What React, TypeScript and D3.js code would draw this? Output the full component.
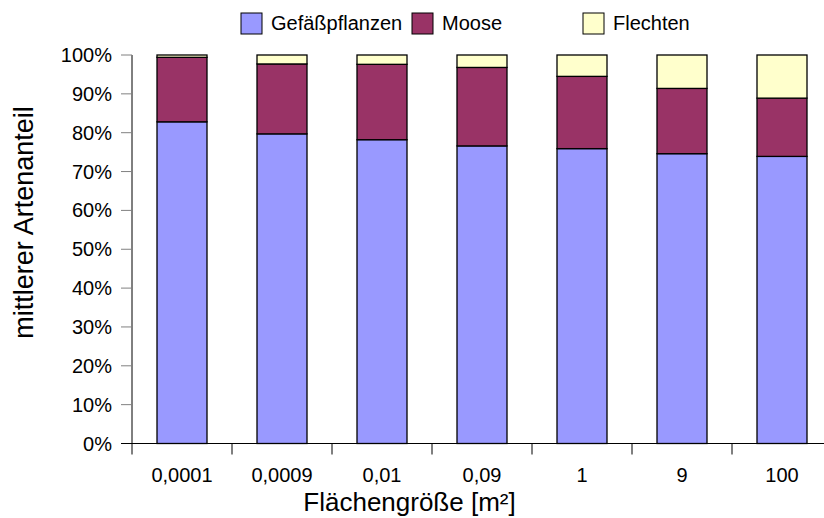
import React from "react";
import * as d3 from "d3";

const categories = ["0,0001", "0,0009", "0,01", "0,09", "1", "9", "100"];
const seriesNames = ["Gefäßpflanzen", "Moose", "Flechten"];
const gefaess = [82.8, 79.7, 78.2, 76.6, 75.9, 74.6, 73.9];
const moose = [16.6, 18.0, 19.4, 20.2, 18.6, 16.8, 15.0];
const flechten = [0.6, 2.3, 2.4, 3.2, 5.5, 8.6, 11.1];
const yTicks = [0, 10, 20, 30, 40, 50, 60, 70, 80, 90, 100];
const colors = ["#9999FF", "#993366", "#FFFFCC"];

const W = 824;
const H = 518;
const font = "'Liberation Sans', Arial, sans-serif";

export default function App() {
  const x = d3.scaleBand<string>().domain(categories).range([132, 832]).paddingInner(0.5).paddingOuter(0.25);
  const xb = d3.scaleBand<string>().domain(categories).range([132, 832]);
  const y = d3.scaleLinear().domain([0, 100]).range([443.5, 55]);

  const rows = categories.map((c, i) => ({ cat: c, s0: gefaess[i], s1: moose[i], s2: flechten[i] }));
  const stacked = d3.stack<any>().keys(["s0", "s1", "s2"])(rows);

  return (
    <svg width={W} height={H} style={{ position: "absolute", left: 0, top: 0, background: "#fff" }} fontFamily={font}>
      {/* bars */}
      {stacked.map((layer, li) =>
        layer.map((d, i) => (
          <rect
            key={`${li}-${i}`}
            x={x(categories[i])!}
            y={y(d[1])}
            width={x.bandwidth()}
            height={y(d[0]) - y(d[1])}
            fill={colors[li]}
            stroke="#000"
            strokeWidth={1.3}
          />
        ))
      )}
      {/* y axis */}
      <line x1={132} x2={132} y1={y(100)} y2={y(0) + 11} stroke="#000" strokeWidth={1} />
      {yTicks.map((t) => (
        <g key={t}>
          <line x1={121} x2={132} y1={y(t)} y2={y(t)} stroke="#808080" strokeWidth={1} />
          <text x={112} y={y(t) + 7} textAnchor="end" fontSize={20} fill="#000">
            {t}%
          </text>
        </g>
      ))}
      {/* x axis */}
      <line x1={121} x2={W} y1={y(0)} y2={y(0)} stroke="#000" strokeWidth={1} />
      {categories.map((c, i) => (
        <g key={c}>
          {i > 0 && (
            <line x1={xb(c)!} x2={xb(c)!} y1={y(0)} y2={y(0) + 11} stroke="#000" strokeWidth={1} />
          )}
          <text x={xb(c)! + xb.bandwidth() / 2} y={482} textAnchor="middle" fontSize={20} fill="#000">
            {c}
          </text>
        </g>
      ))}
      {/* axis titles */}
      <text x={409.5} y={510.5} textAnchor="middle" fontSize={26} fill="#000">
        Flächengröße [m²]
      </text>
      <text
        transform={`translate(33,222.5) rotate(-90)`}
        textAnchor="middle"
        fontSize={27}
        fill="#000"
      >
        mittlerer Artenanteil
      </text>
      {/* legend */}
      {seriesNames.map((n, i) => (
        <g key={n} transform={`translate(${241 + i * 171},13)`}>
          <rect x={0} y={0} width={21} height={21} fill={colors[i]} stroke="#000" strokeWidth={1} />
          <text x={30} y={16.5} fontSize={20} fill="#000">
            {n}
          </text>
        </g>
      ))}
    </svg>
  );
}
